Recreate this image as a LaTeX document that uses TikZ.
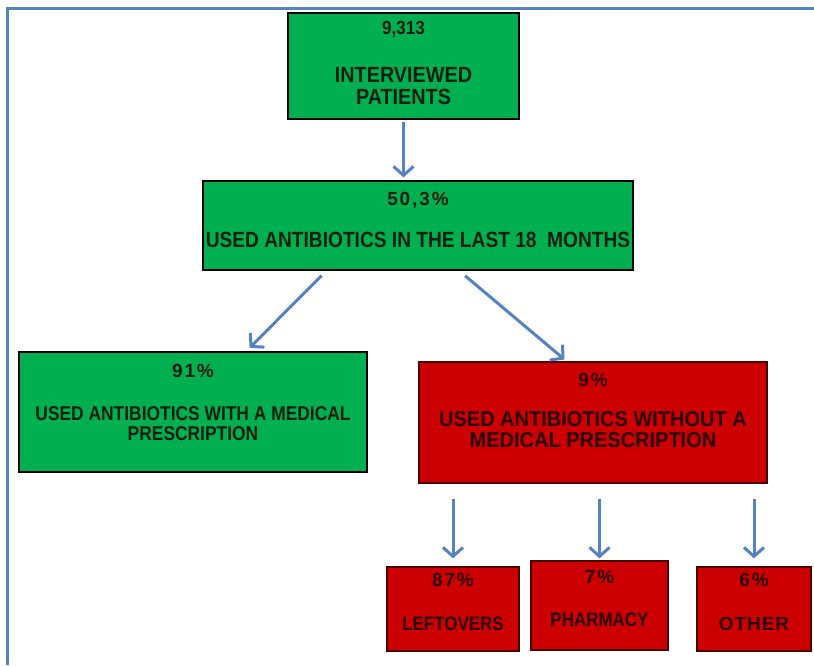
\documentclass[tikz,border=0pt]{standalone}
\usepackage{fontspec}
\setmainfont{Liberation Sans}
\newfontfamily\narrowfont{Liberation Sans}[FakeStretch=0.9]
\newfontfamily\condfont{Liberation Sans}[FakeStretch=0.87]
\newfontfamily\semicond{Liberation Sans}[FakeStretch=0.93]
\newfontfamily\pctfont{Liberation Sans}[LetterSpace=10]
\newfontfamily\wideletters{Liberation Sans}[LetterSpace=5]
\usetikzlibrary{arrows.meta,calc}
\definecolor{fgreen}{HTML}{00B050}
\definecolor{fred}{HTML}{CC0000}
\definecolor{fblue}{HTML}{5582C2}
\definecolor{tdark}{HTML}{0F1F0F}
\definecolor{tred}{HTML}{2A0000}
\newcommand{\pct}[1]{{\pctfont\bfseries\fontsize{19}{20}\selectfont #1}}
\begin{document}
\begin{tikzpicture}[x=1pt,y=-1pt,
  gbox/.style={draw=black, line width=1.2pt, fill=fgreen, inner sep=0pt, align=center, text=tdark},
  rbox/.style={draw=black!70!red, line width=1.2pt, fill=fred, inner sep=0pt, align=center, text=tred},
  arr/.style={draw=fblue, line width=3pt, -{Straight Barb[length=9pt,width=20pt,line width=3pt]}},
]
\useasboundingbox (0,0) rectangle (814,665);
\draw[fblue, line width=3pt] (7,665) -- (7,8) -- (814,8);

\node[gbox, minimum width=231pt, minimum height=106pt,
      font=\narrowfont\bfseries\fontsize{22}{22}\selectfont] (b1) at (403.5,66)
  {{\fontsize{19}{20}\selectfont 9,313}\\[26pt]INTERVIEWED\\PATIENTS\\[-16pt]\mbox{}};

\node[gbox, minimum width=430pt, minimum height=89pt,
      font=\condfont\bfseries\fontsize{22}{22}\selectfont] (b2) at (418,225.5)
  {\pct{50,3\%}\\[20pt]USED ANTIBIOTICS IN THE LAST 18\ \ MONTHS\\[-10pt]\mbox{}};

\node[gbox, minimum width=348pt, minimum height=120pt,
      font=\condfont\bfseries\fontsize{20}{20}\selectfont] (b3) at (193,412)
  {\pct{91\%}\\[23pt]USED ANTIBIOTICS WITH A MEDICAL\\PRESCRIPTION\\[0pt]\mbox{}};

\node[rbox, minimum width=348pt, minimum height=121pt,
      font=\semicond\bfseries\fontsize{21.5}{21}\selectfont] (b4) at (593,422.5)
  {\pct{9\%}\\[19pt]USED ANTIBIOTICS WITHOUT A\\MEDICAL PRESCRIPTION\\[4pt]\mbox{}};

\node[rbox, minimum width=132pt, minimum height=84pt,
      font=\condfont\bfseries\fontsize{19.5}{20}\selectfont] (lf) at (453,609)
  {\pct{87\%}\\[24pt]LEFTOVERS\\[-6pt]\mbox{}};

\node[rbox, minimum width=137pt, minimum height=89pt,
      font=\condfont\bfseries\fontsize{19.5}{20}\selectfont] (ph) at (599.5,605.5)
  {\pct{7\%}\\[23pt]PHARMACY\\[-6pt]\mbox{}};

\node[rbox, minimum width=114pt, minimum height=84pt,
      font=\wideletters\bfseries\fontsize{19}{20}\selectfont] (ot) at (754,609)
  {\pct{6\%}\\[24pt]OTHER\\[-6pt]\mbox{}};

\draw[arr, shorten <=2pt, shorten >=3pt] (b1.south) -- (b1.south |- b2.north);
\draw[arr, shorten <=7pt, shorten >=5pt] ($(b2.south west)!0.288!(b2.south east)$) -- ($(b3.north west)!0.652!(b3.north east)$);
\draw[arr, shorten <=8pt, shorten >=3pt] ($(b2.south west)!0.595!(b2.south east)$) -- ($(b4.north west)!0.425!(b4.north east)$);
\draw[arr, shorten <=15pt, shorten >=8pt] (b4.south -| lf.north) -- (lf.north);
\draw[arr, shorten <=15pt, shorten >=2pt] (b4.south -| ph.north) -- (ph.north);
\draw[arr, shorten <=15pt, shorten >=8pt] (b4.south -| ot.north) -- (ot.north);
\end{tikzpicture}
\end{document}
